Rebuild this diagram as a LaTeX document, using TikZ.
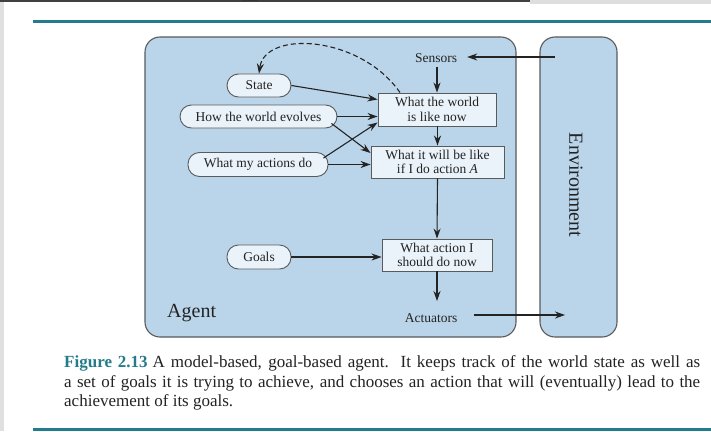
\documentclass[tikz,border=0pt]{standalone}
\usepackage{fontspec}
\setmainfont{Liberation Serif}
\usetikzlibrary{arrows.meta}
\definecolor{agentblue}{RGB}{186,213,234}
\definecolor{cellblue}{RGB}{234,243,250}
\definecolor{edgegray}{RGB}{90,90,90}
\definecolor{captionteal}{RGB}{36,124,138}
\definecolor{inkdark}{RGB}{35,35,35}
\begin{document}
\begin{tikzpicture}[x=1pt,y=-1pt,
  panel/.style={draw=edgegray, line width=1.1pt, fill=agentblue, rounded corners=15pt, inner sep=0pt},
  cell/.style={draw=edgegray, line width=0.9pt, fill=cellblue, inner sep=0pt, align=center,
               text=inkdark, font=\fontsize{13.5}{14.6}\selectfont},
  pill/.style={cell, rounded corners=11.5pt, minimum height=23pt},
  lbl/.style={inner sep=0pt, text=inkdark, font=\fontsize{13.5}{15}\selectfont},
  flow/.style={-{Stealth[length=10pt,width=7pt]}, line width=1.1pt, draw=inkdark},
  rule/.style={draw=captionteal, line width=3pt}]
\useasboundingbox (0,0) rectangle (711,431);
\fill[white] (0,0) rectangle (711,431);

% screen edges around the page
\fill[black!12] (0,0) rectangle (4,431);
\fill[black!13] (530,0) rectangle (711,4);
\fill[black!75] (0,0) rectangle (530,2);
\fill[black] (242,0) arc[start angle=180, end angle=360, x radius=8, y radius=5] -- cycle;

% page rules
\draw[rule] (33,21) -- (711,21);
\draw[rule] (33,429) -- (711,429);

% agent and environment panels
\node[panel, minimum width=371pt, minimum height=300pt] (agent) at (330.5,187) {};
\node[panel, minimum width=77pt, minimum height=300pt] (env) at (578.5,187) {};
\node[rotate=-90, inner sep=0pt, text=inkdark, font=\fontsize{20}{20}\selectfont] (envlabel) at (576,185) {Environment};
\node[anchor=west, inner sep=0pt, text=inkdark, font=\fontsize{20}{20}\selectfont] (agentlabel) at (167,313) {Agent};

% internal state and knowledge
\node[pill, minimum width=64pt] (state) at (259,85.5) {State};
\node[pill, minimum width=157pt] (evolve) at (258.5,116.5) {How the world evolves};
\node[pill, minimum width=140pt, minimum height=24pt] (actions) at (258,164.5) {What my actions do};
\node[pill, minimum width=64pt, minimum height=24pt] (goals) at (259,257) {Goals};

% reasoning steps
\node[cell, minimum width=118pt, minimum height=33pt] (world) at (437,109.5) {What the world\\is like now};
\node[cell, minimum width=133pt, minimum height=32pt] (future) at (437.5,162) {What it will be like\\if I do action \textit{A}};
\node[cell, minimum width=110pt, minimum height=32pt] (action) at (437,255) {What action I\\should do now};

% percepts and actions
\node[lbl] (sensors) at (436,58) {Sensors};
\node[lbl] (actuators) at (431,318) {Actuators};
\coordinate (percept) at (555,57);
\coordinate (effect) at (565,315);
\coordinate (acttop) at (437,301);

\draw[flow, shorten >=10pt] (percept) -- (percept -| sensors.east);
\draw[flow, shorten <=4pt] (sensors.south -| world.north) -- (world.north);
\draw[flow] (world.south) -- (world.south -| future.north) -- (future.north);
\draw[flow] (future.south) -- (action.north);
\draw[flow] (action.south) -- (acttop);
\draw[flow, shorten <=17pt] (actuators.east |- effect) -- (effect);

\draw[flow] (state.east) -- ([yshift=10pt]world.west);
\draw[flow] (evolve.east) -- ([yshift=-7pt]world.west);
\draw[flow] ([xshift=-6pt,yshift=5pt]evolve.south east) -- ([yshift=9pt]future.west);
\draw[flow] ([xshift=-5pt,yshift=-6pt]actions.north east) -- ([yshift=-13pt]world.west);
\draw[flow] (actions.east) -- (actions.east -| future.west);
\draw[flow] (goals.east) -- (goals.east -| action.west);

% state update loop
\draw[flow, dash pattern=on 5pt off 3pt] ([xshift=-37pt]world.north)
  .. controls (360,35) and (265,30) .. (state.north);

% caption
\node[anchor=base west, inner sep=0pt, text width=636pt, align=justify, text=inkdark,
      font=\fontsize{17}{19.5}\selectfont] (caption) at (64,367.5)
  {\textcolor{captionteal}{\textbf{Figure 2.13}}\hspace{5pt}A model-based, goal-based agent.\ \ It keeps track of the world state as well as\linebreak
   a set of goals it is trying to achieve, and chooses an action that will (eventually) lead to the\linebreak
   achievement of its goals.};
\end{tikzpicture}
\end{document}
